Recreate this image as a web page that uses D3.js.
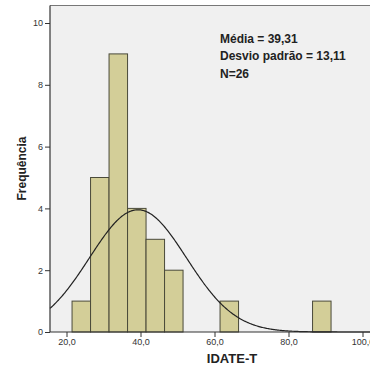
<!DOCTYPE html>
<html>
<head>
<meta charset="utf-8">
<script src="https://cdn.jsdelivr.net/npm/d3@7"></script>
<style>
  html, body { margin: 0; padding: 0; background: #fff; overflow: hidden; }
  svg { display: block; font-family: "Liberation Sans", Arial, sans-serif; }
</style>
</head>
<body>
<svg id="chart" width="370" height="372"></svg>
<script>
// Histogram bins (lower edge, width 5) and their frequencies
const binStarts = [21.5, 26.5, 31.5, 36.5, 41.5, 46.5, 51.5, 56.5, 61.5, 66.5, 71.5, 76.5, 81.5, 86.5];
const counts    = [1, 5, 9, 4, 3, 2, 0, 0, 1, 0, 0, 0, 0, 1];
const binWidth = 5;
const xTicks = [20, 40, 60, 80, 100];
const yTicks = [0, 2, 4, 6, 8, 10];
const statsLines = ["Média = 39,31", "Desvio padrão = 13,11", "N=26"];
const mean = 39.31, sd = 13.11, n = 26;

const svg = d3.select("#chart");
const plotL = 50, plotT = 5.5, plotB = 332, plotR = 375;

const x = d3.scaleLinear().domain([20, 100]).range([66.5, 362.5]);
const y = d3.scaleLinear().domain([0, 10]).range([plotB, 23]);

// plot background
svg.append("rect").attr("x", plotL).attr("y", plotT)
  .attr("width", plotR - plotL).attr("height", plotB - plotT)
  .attr("fill", "#f0f0f0");
svg.append("line").attr("x1", plotL).attr("x2", plotR).attr("y1", plotT).attr("y2", plotT)
  .attr("stroke", "#777").attr("stroke-width", 1);

// bars
svg.append("g").selectAll("rect").data(binStarts.map((s, i) => ({s, c: counts[i]})).filter(d => d.c > 0))
  .join("rect")
  .attr("x", d => x(d.s))
  .attr("y", d => y(d.c))
  .attr("width", d => x(d.s + binWidth) - x(d.s))
  .attr("height", d => y(0) - y(d.c))
  .attr("fill", "#d3ce98")
  .attr("stroke", "#4a4a3a")
  .attr("stroke-width", 1);

// normal curve scaled to counts
const pdf = v => n * binWidth / (sd * Math.sqrt(2 * Math.PI)) * Math.exp(-0.5 * ((v - mean) / sd) ** 2);
const xs = d3.range(x.invert(plotL), x.invert(plotR) + 0.5, 0.25);
svg.append("path")
  .datum(xs)
  .attr("d", d3.line().x(v => x(v)).y(v => y(pdf(v))))
  .attr("fill", "none").attr("stroke", "#222").attr("stroke-width", 1.2);

// axes
const xAxis = svg.append("g").attr("transform", `translate(0,${plotB})`)
  .call(d3.axisBottom(x).tickValues(xTicks).tickSize(5).tickPadding(2)
    .tickFormat(d => d3.format(".1f")(d).replace(".", ",")));
xAxis.select(".domain").remove();
svg.append("line").attr("x1", plotL).attr("x2", plotR).attr("y1", plotB).attr("y2", plotB)
  .attr("stroke", "#333").attr("stroke-width", 1.2);

const yAxis = svg.append("g").attr("transform", `translate(${plotL},0)`)
  .call(d3.axisLeft(y).tickValues(yTicks).tickSize(5).tickPadding(2));
yAxis.select(".domain").remove();
svg.append("line").attr("x1", plotL).attr("x2", plotL).attr("y1", plotT).attr("y2", plotB)
  .attr("stroke", "#333").attr("stroke-width", 1.2);

svg.selectAll(".tick line").attr("stroke", "#333");
svg.selectAll(".tick text").attr("fill", "#333").style("font-size", "9px")
  .style("font-family", "'Liberation Sans', Arial, sans-serif");

// axis titles
svg.append("text").attr("x", 232).attr("y", 363).attr("text-anchor", "middle")
  .style("font-size", "13px").style("font-weight", "bold").attr("fill", "#222").text("IDATE-T");
svg.append("text").attr("transform", "translate(26,168.5) rotate(-90)").attr("text-anchor", "middle")
  .style("font-size", "12px").style("font-weight", "bold").attr("fill", "#222").text("Frequência");

// summary statistics
svg.append("g").selectAll("text").data(statsLines).join("text")
  .attr("x", 220).attr("y", (d, i) => 42.5 + i * 17.5)
  .style("font-size", "12px").style("font-weight", "bold").attr("fill", "#222")
  .text(d => d);
</script>
</body>
</html>
